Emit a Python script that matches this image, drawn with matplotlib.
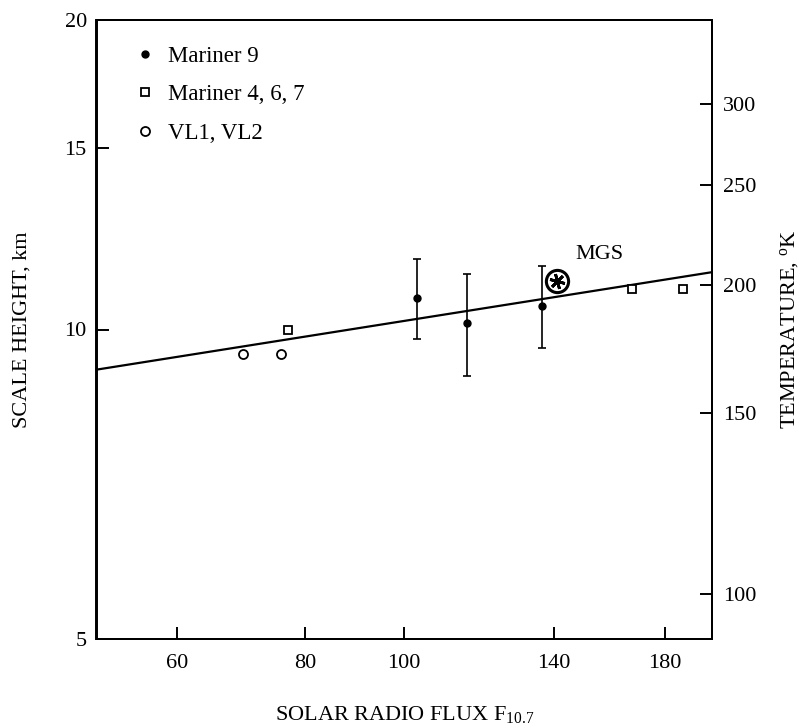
import matplotlib
matplotlib.use("Agg")
import matplotlib.pyplot as plt
from matplotlib.ticker import NullLocator, FixedLocator, FixedFormatter

# ---- data ----
flux_m9 = [102.8, 115.1, 136.3]
h_m9 = [10.74, 10.15, 10.54]
h_m9_low = [9.80, 9.01, 9.59]
h_m9_high = [11.70, 11.32, 11.54]

flux_m467 = [76.9, 167.1, 187.5]
h_m467 = [10.0, 10.95, 10.95]

flux_vl = [69.5, 75.8]
h_vl = [9.46, 9.46]

flux_mgs = [141.0]
h_mgs = [11.15]

fit_flux = [50, 200]
fit_h = [9.14, 11.37]

x_ticks = [60, 80, 100, 140, 180]
x_ticklabels = ["60", "80", "100", "140", "180"]
h_ticks = [5, 10, 15, 20]
h_ticklabels = ["5", "10", "15", "20"]
t_ticks = [100, 150, 200, 250, 300]
t_ticklabels = ["100", "150", "200", "250", "300"]
K_PER_KM = 18.1  # temperature per km of scale height (right axis)

plt.rcParams["font.family"] = ["Liberation Serif", "DejaVu Serif"]
plt.rcParams["mathtext.fontset"] = "custom"
plt.rcParams["mathtext.rm"] = "Liberation Serif"
plt.rcParams["mathtext.it"] = "Liberation Serif:italic"

fig = plt.figure(figsize=(8.03, 7.28), dpi=100)
ax = fig.add_axes([96.5 / 803, 1 - 639 / 728, (712 - 96.5) / 803, (639 - 20) / 728])
ax.set_xscale("log")
ax.set_yscale("log")
ax.set_xlim(50, 200)
ax.set_ylim(5, 20)

# fit line
ax.plot(fit_flux, fit_h, color="black", lw=1.6, zorder=2)

# Mariner 9 with error bars
yerr = [[h - lo for h, lo in zip(h_m9, h_m9_low)],
        [hi - h for h, hi in zip(h_m9, h_m9_high)]]
ax.errorbar(flux_m9, h_m9, yerr=yerr, fmt="none", ecolor="black",
            elinewidth=1.2, capsize=3, capthick=1.2, zorder=3)
m9, = ax.plot(flux_m9, h_m9, "o", color="black", ms=5, ls="none",
              label="Mariner 9", zorder=4)
m467, = ax.plot(flux_m467, h_m467, "s", mfc="white", mec="black", mew=1.3,
                ms=6, ls="none", label="Mariner 4, 6, 7", zorder=4)
vl, = ax.plot(flux_vl, h_vl, "o", mfc="white", mec="black", mew=1.3,
              ms=6.5, ls="none", label="VL1, VL2", zorder=4)

# MGS marker: circle with spokes
ax.plot(flux_mgs, h_mgs, "o", mfc="white", mec="black", mew=2.2, ms=16, zorder=5)
ax.plot(flux_mgs, h_mgs, marker=(6, 2, 15), color="black", mew=2.0, ms=11, ls="none", zorder=6)
ax.annotate("MGS", xy=(flux_mgs[0], h_mgs[0]), xytext=(43, 26),
            textcoords="offset pixels", ha="center", va="center", fontsize=16)

# axes styling
for s in ax.spines.values():
    s.set_linewidth(1.4)
ax.xaxis.set_major_locator(FixedLocator(x_ticks))
ax.xaxis.set_major_formatter(FixedFormatter(x_ticklabels))
ax.xaxis.set_minor_locator(NullLocator())
ax.yaxis.set_major_locator(FixedLocator(h_ticks))
ax.yaxis.set_major_formatter(FixedFormatter(h_ticklabels))
ax.yaxis.set_minor_locator(NullLocator())
ax.tick_params(axis="x", direction="in", length=9, width=1.4, labelsize=16, pad=11)
ax.tick_params(axis="y", direction="in", length=9, width=1.4, labelsize=16, pad=7)

ax.set_xlabel("SOLAR RADIO FLUX F$_{\\mathregular{10.7}}$", fontsize=16)
ax.xaxis.set_label_coords(0.5, -0.105)
ax.set_ylabel("SCALE HEIGHT, km", fontsize=16)
ax.yaxis.set_label_coords(-0.106, 0.5)

# right axis: temperature
ax2 = ax.twinx()
ax2.set_yscale("log")
ax2.set_ylim(5 * K_PER_KM, 20 * K_PER_KM)
ax2.yaxis.set_major_locator(FixedLocator(t_ticks))
ax2.yaxis.set_major_formatter(FixedFormatter(t_ticklabels))
ax2.yaxis.set_minor_locator(NullLocator())
ax2.tick_params(axis="y", direction="in", length=9, width=1.4, labelsize=16, pad=8)
for s in ax2.spines.values():
    s.set_linewidth(1.4)
ax2.set_ylabel("TEMPERATURE, $^{\\mathregular{o}}$K", fontsize=16)
ax2.yaxis.set_label_coords(1.107, 0.5)

leg = ax.legend(handles=[m9, m467, vl], loc="upper left",
                bbox_to_anchor=(134 / 803, 1 - 46 / 728), bbox_transform=fig.transFigure,
                frameon=False, fontsize=16.5, numpoints=1, handlelength=1.0,
                handletextpad=0.5, labelspacing=0.76, borderpad=0, borderaxespad=0)

fig.savefig("out.png", dpi=100)
